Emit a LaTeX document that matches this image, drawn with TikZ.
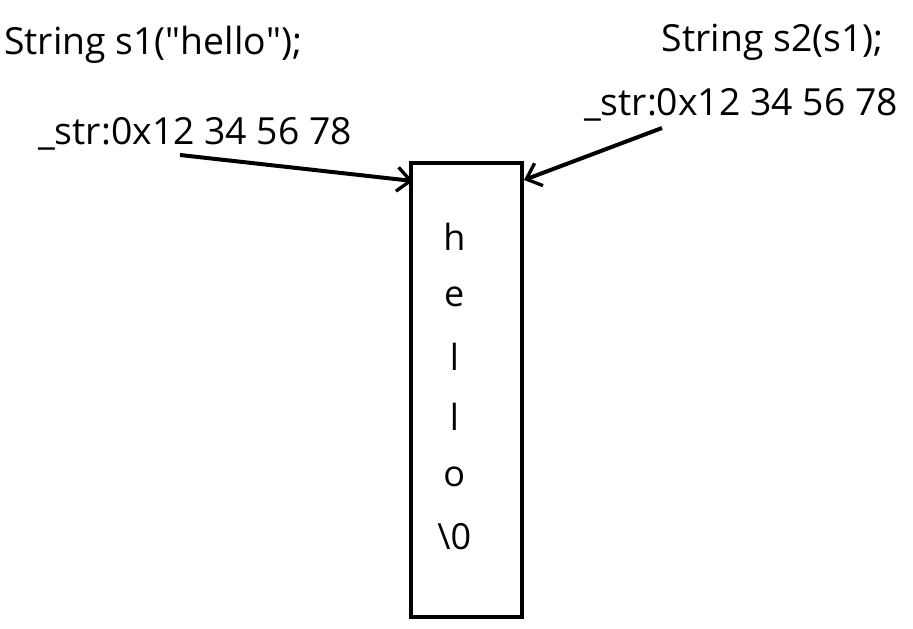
\documentclass[tikz,border=0pt]{standalone}
\usepackage{fontspec}
\setmainfont{Open Sans}
\usetikzlibrary{arrows.meta,positioning}
\tikzset{%
	code/.style     = {inner sep=0pt, font=\fontsize{28}{32}\selectfont}, % code lines
	cell/.style     = {inner sep=0pt, anchor=west, font=\fontsize{27}{32}\selectfont}, % chars
	memory/.style   = {draw, line width=3pt, rectangle, minimum width=83pt, minimum height=340pt},
	pointer/.style  = {line width=3pt, -{Straight Barb[length=10pt,width=18pt,line width=2.5pt]}},
}
\begin{document}
\begin{tikzpicture}[x=0.75pt,y=-0.75pt,node distance=45pt]
	\useasboundingbox (0,0) rectangle (913,628);
	% heap block
	\node [memory] (mem) at (466.5,390) {};
	\node [cell] (c1) at (443,237) {h};
	\node [cell] (c2) [below of=c1] {e};
	\node [cell] (c3) [below of=c2] {l};
	\node [cell] (c4) [below of=c3] {l};
	\node [cell] (c5) [below of=c4] {o};
	\node [cell] (c6) [below of=c5] {\textbackslash 0};
	
	% s1
	\node [code,anchor=west] (s1) at (4,45) {String s1(\textquotedbl hello\textquotedbl);};
	\node [code,anchor=west] (p1) at (38,134) {\_str:0x12 34 56 78};
	% s2
	\node [code,anchor=east] (s2) at (884,42) {String s2(s1);};
	\node [code,anchor=east] (p2) at (898,105) {\_str:0x12 34 56 78};
	
	\coordinate (t1) at (180,155);
	\coordinate (t2) at (662,128);
	\coordinate (h1) at (413,181);
	\coordinate (h2) at (524,180);
	\draw[pointer] (t1) -- (h1);
	\draw[pointer] (t2) -- (h2);
\end{tikzpicture}
\end{document}
